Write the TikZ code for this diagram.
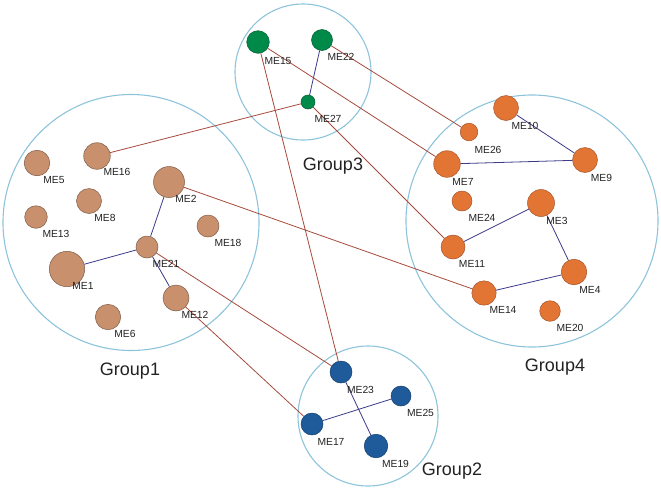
\documentclass[tikz,border=0pt]{standalone}
\usepackage{fontspec}
\setmainfont{Liberation Sans}
\definecolor{gA}{HTML}{C8906C}\definecolor{gAd}{HTML}{7E5C48}
\definecolor{gB}{HTML}{1F5B9B}\definecolor{gBd}{HTML}{153F6C}
\definecolor{gC}{HTML}{008A4A}\definecolor{gCd}{HTML}{005C32}
\definecolor{gD}{HTML}{E37534}\definecolor{gDd}{HTML}{A6552A}
\definecolor{ring}{HTML}{8DC4DC}
\definecolor{redge}{HTML}{A54A3C}
\definecolor{bedge}{HTML}{3C3A8A}
\definecolor{txt}{HTML}{222222}
\tikzset{
  grp/.style={circle, inner sep=0, draw=ring, line width=1.1pt},
  me/.style={circle, inner sep=0, line width=0.5pt},
  g1/.style={me, fill=gA, draw=gAd},
  g2/.style={me, fill=gB, draw=gBd},
  g3/.style={me, fill=gC, draw=gCd},
  g4/.style={me, fill=gD, draw=gDd},
  lbl/.style={inner sep=0, text=txt, font=\fontsize{10.3}{12}\selectfont},
  glbl/.style={inner sep=0, text=txt, font=\fontsize{18}{20}\selectfont},
  inter/.style={draw=redge, line width=0.8pt},
  intra/.style={draw=bedge, line width=0.8pt},
}
\begin{document}
\begin{tikzpicture}[x=1pt,y=-1pt]
\useasboundingbox (0,0) rectangle (661,488);
% group rings
\node[grp, minimum size=256] (G1) at (131,222.5) {};
\node[grp, minimum size=140] (G2) at (368,416) {};
\node[grp, minimum size=136] (G3) at (303,72) {};
\node[grp, minimum size=252] (G4) at (532,221) {};
% Group1 nodes
\node[g1, minimum size=25.6] (ME5) at (37,163) {};
\node[g1, minimum size=26.6] (ME16) at (97,156) {};
\node[g1, minimum size=31] (ME2) at (169,182) {};
\node[g1, minimum size=25] (ME8) at (89,201) {};
\node[g1, minimum size=22.6] (ME13) at (36,217) {};
\node[g1, minimum size=22] (ME18) at (208,226) {};
\node[g1, minimum size=22] (ME21) at (147,247) {};
\node[g1, minimum size=35.4] (ME1) at (67,269) {};
\node[g1, minimum size=26] (ME12) at (176,298) {};
\node[g1, minimum size=25.4] (ME6) at (108,317) {};
% Group3 nodes
\node[g3, minimum size=22.6] (ME15) at (258,42) {};
\node[g3, minimum size=21] (ME22) at (322,40) {};
\node[g3, minimum size=14] (ME27) at (308,102) {};
% Group4 nodes
\node[g4, minimum size=25] (ME10) at (506,108) {};
\node[g4, minimum size=17.6] (ME26) at (469,132) {};
\node[g4, minimum size=26.6] (ME7) at (447,164) {};
\node[g4, minimum size=25] (ME9) at (585,160) {};
\node[g4, minimum size=20] (ME24) at (462,201) {};
\node[g4, minimum size=27] (ME3) at (541,203) {};
\node[g4, minimum size=24] (ME11) at (453,247) {};
\node[g4, minimum size=25.6] (ME4) at (574,272) {};
\node[g4, minimum size=24.4] (ME14) at (484,293) {};
\node[g4, minimum size=20.6] (ME20) at (550,311) {};
% Group2 nodes
\node[g2, minimum size=22] (ME23) at (341,372) {};
\node[g2, minimum size=20] (ME25) at (401,396) {};
\node[g2, minimum size=22] (ME17) at (312,424) {};
\node[g2, minimum size=23.6] (ME19) at (376,446) {};
% intra-group edges
\draw[intra] (ME2) -- (ME21);
\draw[intra] (ME21) -- (ME1);
\draw[intra] (ME21) -- (ME12);
\draw[intra] (ME22) -- (ME27);
\draw[intra] (ME10) -- (ME9);
\draw[intra] (ME7) -- (ME9);
\draw[intra] (ME11) -- (ME3);
\draw[intra] (ME3) -- (ME4);
\draw[intra] (ME4) -- (ME14);
\draw[intra] (ME23) -- (ME19);
\draw[intra] (ME17) -- (ME25);
% inter-group edges
\draw[inter] (ME16) -- (ME27);
\draw[inter] (ME2) -- (ME14);
\draw[inter] (ME21) -- (ME23);
\draw[inter] (ME12) -- (ME17);
\draw[inter] (ME15) -- (ME23);
\draw[inter] (ME15) -- (ME7);
\draw[inter] (ME22) -- (ME26);
\draw[inter] (ME27) -- (ME11);
% node labels
\node[lbl] (L5) at (54,180) {ME5};
\node[lbl] (L16) at (117,172) {ME16};
\node[lbl] (L2) at (186,199) {ME2};
\node[lbl] (L8) at (105,218) {ME8};
\node[lbl] (L13) at (56,234) {ME13};
\node[lbl] (L18) at (228,243) {ME18};
\node[lbl] (L21) at (166,264) {ME21};
\node[lbl] (L1) at (83,286) {ME1};
\node[lbl] (L12) at (195,315) {ME12};
\node[lbl] (L6) at (125,334) {ME6};
\node[lbl] (L15) at (278,61) {ME15};
\node[lbl] (L22) at (341,57) {ME22};
\node[lbl] (L27) at (328,119) {ME27};
\node[lbl] (L10) at (525,125.5) {ME10};
\node[lbl] (L26) at (488,150) {ME26};
\node[lbl] (L7) at (463,182) {ME7};
\node[lbl] (L9) at (601.5,177.5) {ME9};
\node[lbl] (L24) at (482,218) {ME24};
\node[lbl] (L3) at (557,221) {ME3};
\node[lbl] (L11) at (472,264) {ME11};
\node[lbl] (L4) at (590,290) {ME4};
\node[lbl] (L14) at (503,310) {ME14};
\node[lbl] (L20) at (570,328) {ME20};
\node[lbl] (L23) at (360.5,390) {ME23};
\node[lbl] (L25) at (420.5,413) {ME25};
\node[lbl] (L17) at (331,442) {ME17};
\node[lbl] (L19) at (395.5,464) {ME19};
% group labels
\node[glbl] (T1) at (130,371) {Group1};
\node[glbl] (T2) at (452,471) {Group2};
\node[glbl] (T3) at (333,166) {Group3};
\node[glbl] (T4) at (555,367) {Group4};
\end{tikzpicture}
\end{document}
